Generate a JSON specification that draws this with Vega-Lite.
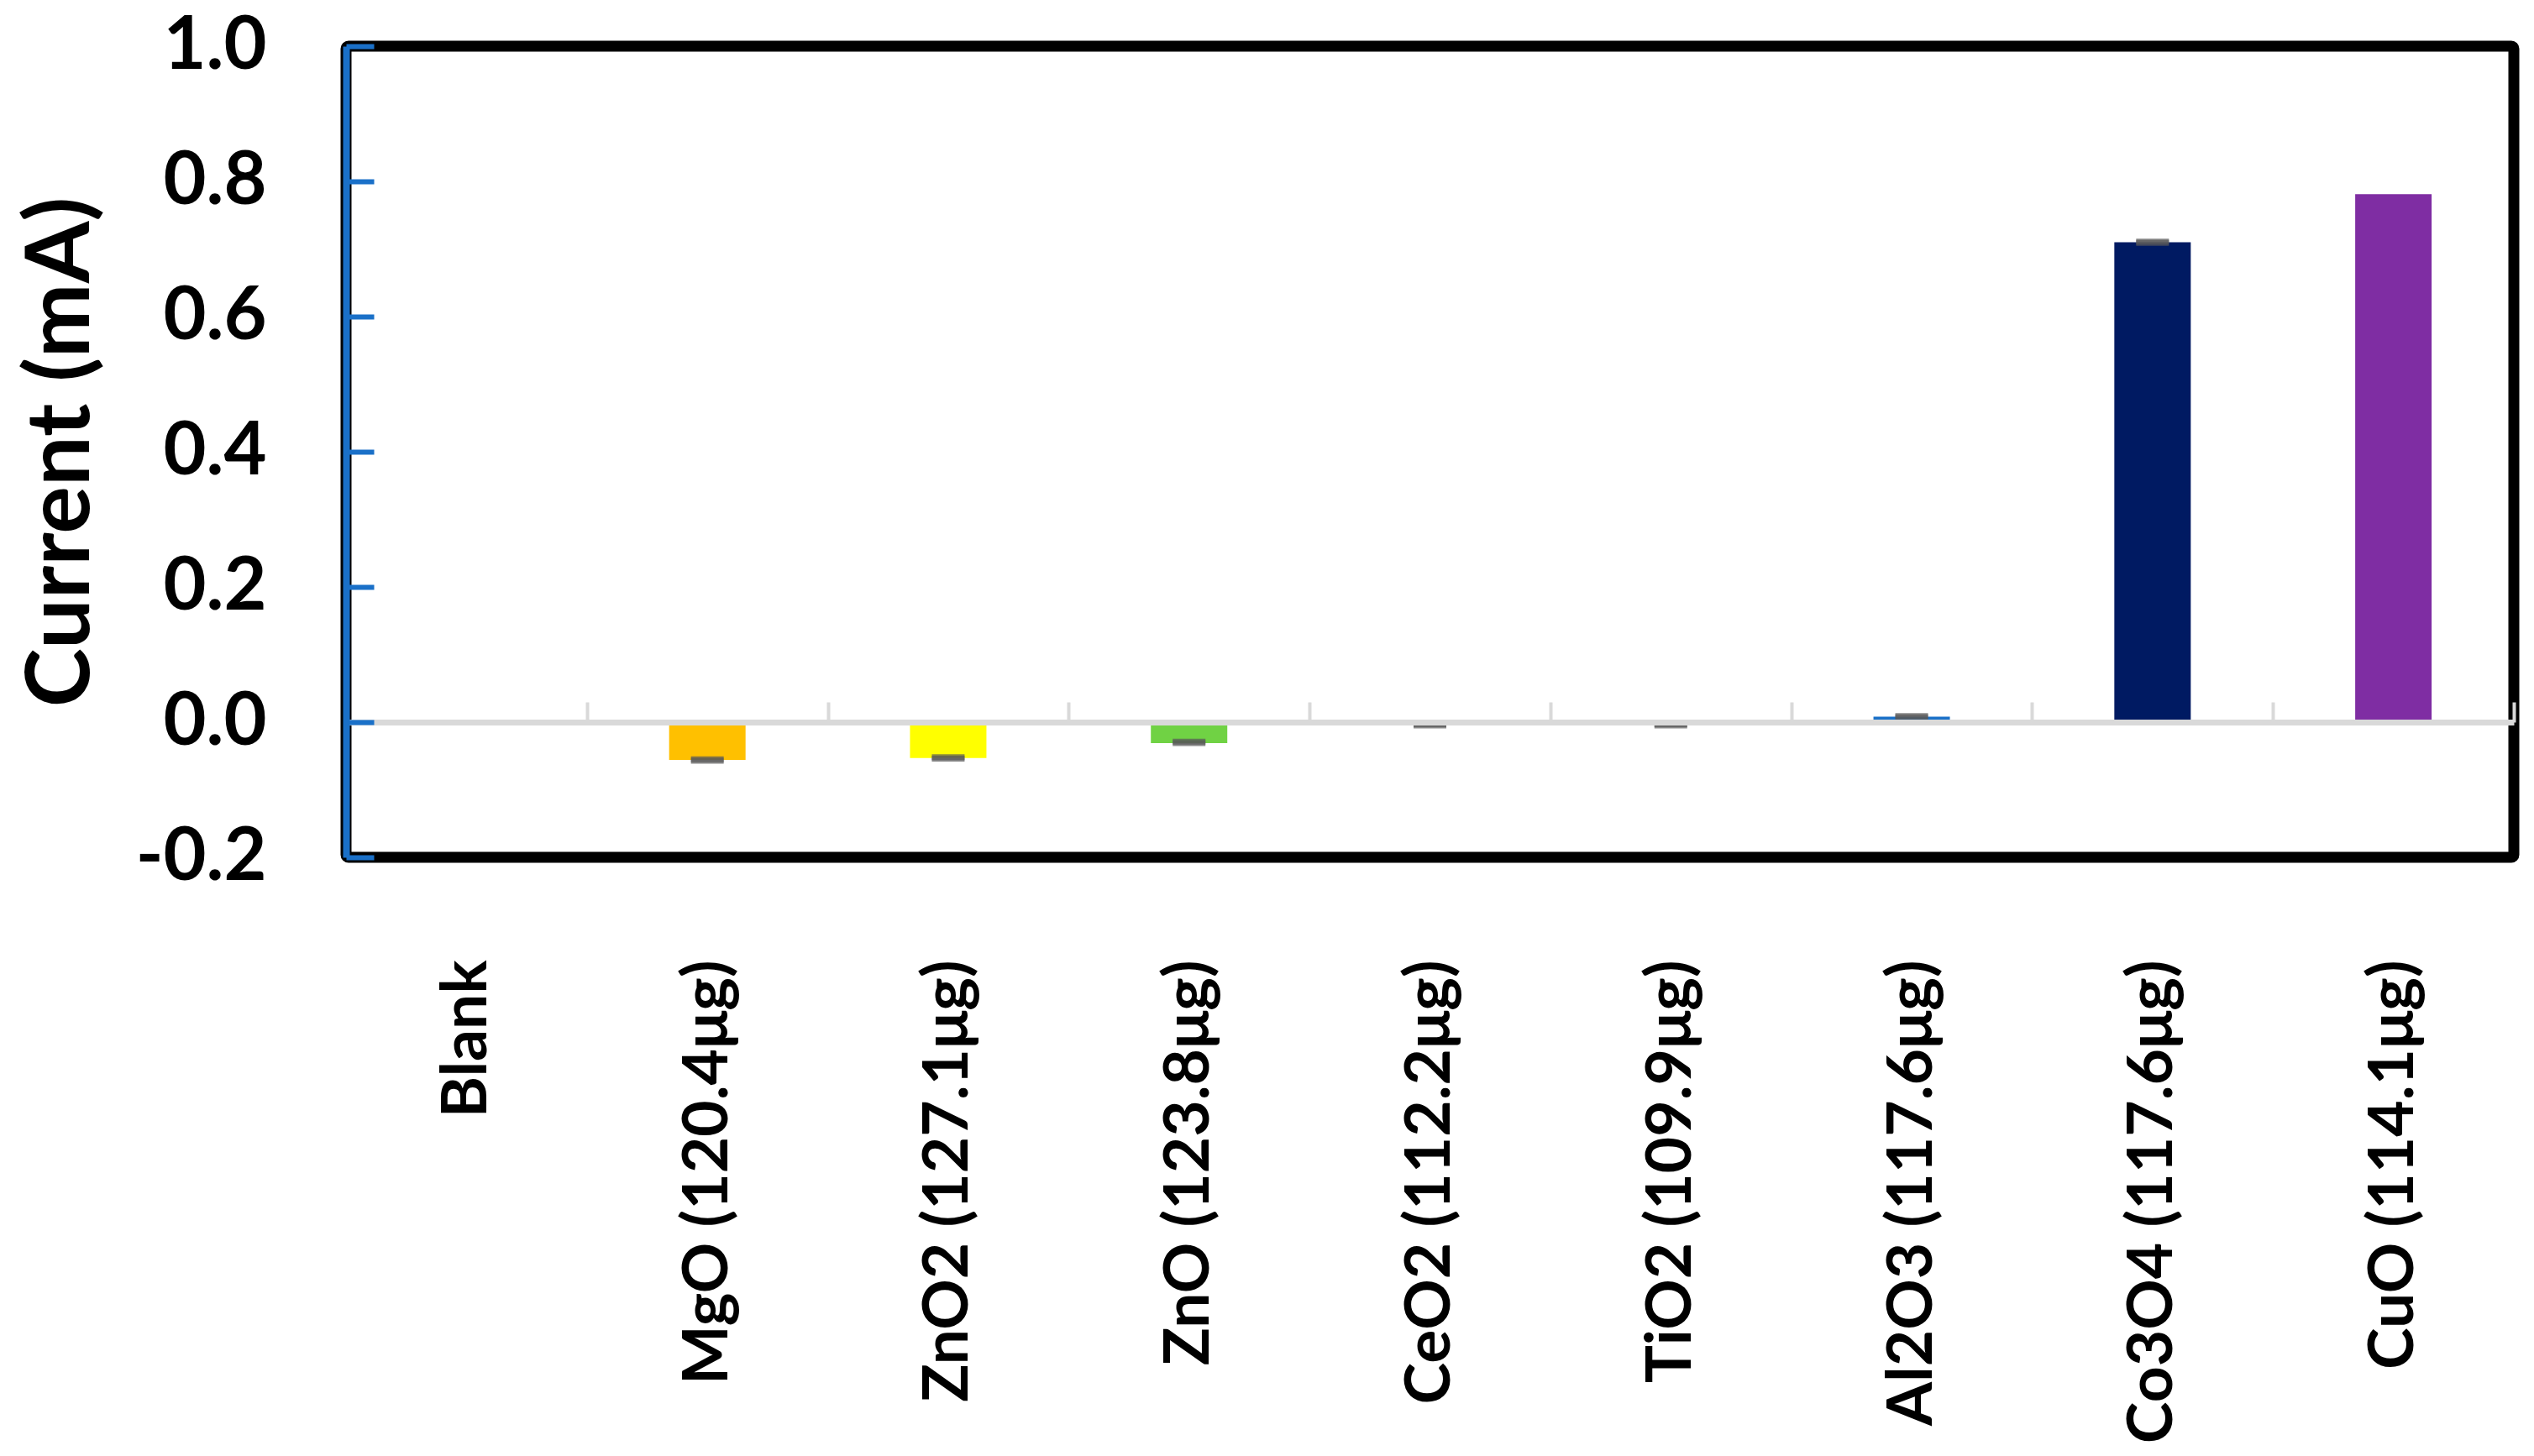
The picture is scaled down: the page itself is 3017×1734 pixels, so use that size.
{
  "$schema": "https://vega.github.io/schema/vega-lite/v6.json",
  "width": 2581,
  "height": 966,
  "autosize": {"type": "none"},
  "padding": {"left": 412, "top": 55, "right": 24, "bottom": 713},
  "background": "white",
  "config": {
    "view": {"stroke": "black", "strokeWidth": 13, "cornerRadius": 3},
    "font": "Lato"
  },
  "data": {
    "values": [
      {"cat": "Blank", "value": 0, "lo": null, "hi": null},
      {"cat": "MgO (120.4μg)", "value": -0.056, "lo": -0.057, "hi": -0.055},
      {"cat": "ZnO2 (127.1μg)", "value": -0.053, "lo": -0.054, "hi": -0.052},
      {"cat": "ZnO (123.8μg)", "value": -0.031, "lo": -0.031, "hi": -0.029},
      {"cat": "CeO2 (112.2μg)", "value": -0.004, "lo": -0.005, "hi": -0.003},
      {"cat": "TiO2 (109.9μg)", "value": -0.004, "lo": -0.005, "hi": -0.003},
      {"cat": "Al2O3 (117.6μg)", "value": 0.008, "lo": 0.007, "hi": 0.009},
      {"cat": "Co3O4 (117.6μg)", "value": 0.710, "lo": 0.709, "hi": 0.711},
      {"cat": "CuO (114.1μg)", "value": 0.781, "lo": null, "hi": null}
    ]
  },
  "encoding": {
    "x": {
      "field": "cat",
      "type": "nominal",
      "sort": null,
      "scale": {"paddingInner": 0, "paddingOuter": 0},
      "axis": {
        "orient": "bottom",
        "offset": -161,
        "title": null,
        "domainColor": "#D9D9D9",
        "domainWidth": 7,
        "tickColor": "#D9D9D9",
        "tickWidth": 4,
        "tickSize": -24,
        "tickBand": "extent",
        "labelAngle": -90,
        "labelAlign": "right",
        "labelBaseline": "middle",
        "labelFont": "Lato",
        "labelFontWeight": "bold",
        "labelFontSize": 75,
        "labelColor": "black",
        "labelPadding": 307,
        "labelLimit": 0,
        "labelOverlap": false,
        "zindex": 1
      }
    }
  },
  "layer": [
    {
      "mark": {"type": "bar", "width": 91},
      "encoding": {
        "y": {
          "field": "value",
          "type": "quantitative",
          "scale": {"domain": [-0.2, 1.0], "nice": false, "zero": false},
          "axis": {
            "values": [-0.2, 0, 0.2, 0.4, 0.6, 0.8, 1.0],
            "labelExpr": "replace(format(datum.value, '.1f'), '\u2212', '-')",
            "grid": false,
            "domainColor": "#1A70C8",
            "domainWidth": 8,
            "tickColor": "#1A70C8",
            "tickWidth": 6,
            "tickSize": -33,
            "labelFont": "Lato",
            "labelFontWeight": "bold",
            "labelFontSize": 88,
            "labelColor": "black",
            "labelPadding": 128,
            "labelOverlap": false,
            "title": "Current (mA)",
            "titleFont": "Lato",
            "titleFontWeight": "bold",
            "titleFontSize": 106,
            "titleColor": "black",
            "titleAngle": -90,
            "titleX": -307,
            "titleY": 483,
            "titleAlign": "center",
            "titleBaseline": "alphabetic",
            "zindex": 1
          }
        },
        "color": {
          "field": "cat",
          "type": "nominal",
          "legend": null,
          "scale": {
            "domain": ["Blank", "MgO (120.4μg)", "ZnO2 (127.1μg)", "ZnO (123.8μg)", "CeO2 (112.2μg)", "TiO2 (109.9μg)", "Al2O3 (117.6μg)", "Co3O4 (117.6μg)", "CuO (114.1μg)"],
            "range": ["#A5A5A5", "#FFC000", "#FFFF00", "#70D244", "#00B0F0", "#C00000", "#1A70C8", "#001A62", "#7F2DA3"]
          }
        }
      }
    },
    {
      "mark": {"type": "tick", "color": "#595959", "size": 39, "thickness": 7, "orient": "horizontal"},
      "encoding": {"y": {"field": "lo", "type": "quantitative"}}
    },
    {
      "mark": {"type": "tick", "color": "#595959", "size": 39, "thickness": 7, "orient": "horizontal"},
      "encoding": {"y": {"field": "hi", "type": "quantitative"}}
    }
  ]
}
